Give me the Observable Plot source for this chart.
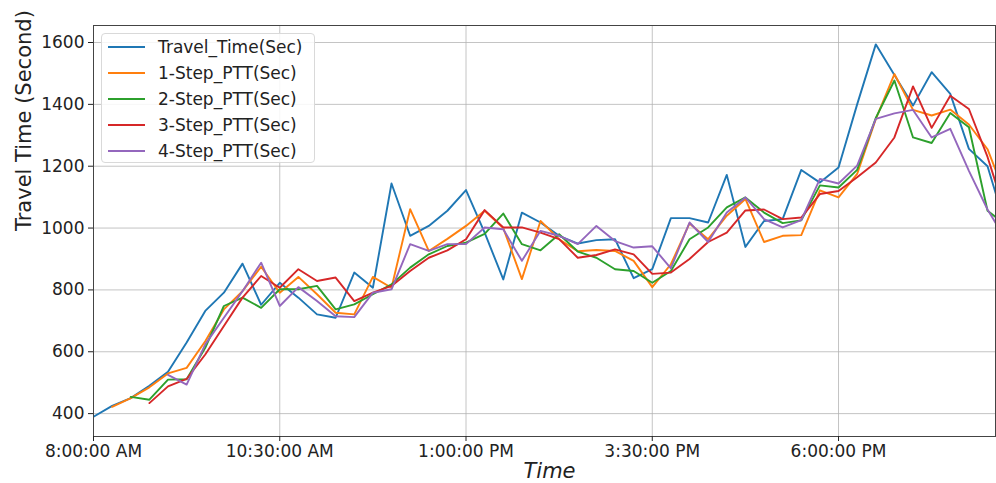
<!DOCTYPE html>
<html><head><meta charset="utf-8">
<script src="https://cdn.jsdelivr.net/npm/d3@7"></script>
<script src="https://cdn.jsdelivr.net/npm/@observablehq/plot@0.6"></script>
<style>
body{margin:0;background:#fff;}
#wrap{position:relative;width:996px;height:483px;font-family:"DejaVu Sans",sans-serif;}
#legend{position:absolute;left:101px;top:33px;width:214px;height:130px;border:1px solid #d9d9d9;border-radius:4px;background:rgba(255,255,255,0.85);box-sizing:border-box;padding-top:0px;}
.row{height:25.9px;display:flex;align-items:center;font-size:17px;color:#222;white-space:nowrap;}
.row svg{margin-left:6px;margin-right:13px;}
</style></head>
<body><div id="wrap"></div>
<script>
// ---- data ----
const seriesNames = ["Travel_Time(Sec)", "1-Step_PTT(Sec)", "2-Step_PTT(Sec)", "3-Step_PTT(Sec)", "4-Step_PTT(Sec)"];
const seriesColors = ["#1f77b4", "#ff7f0e", "#2ca02c", "#d62728", "#9467bd"];
const xTickLabels = ["8:00:00 AM", "10:30:00 AM", "1:00:00 PM", "3:30:00 PM", "6:00:00 PM"];
const yTicks = [400, 600, 800, 1000, 1200, 1400, 1600];
const stepMinutes = 15;

const travelTime = [390,425,450,490,535,630,732,791,885,752,823,775,721,710,856,807,1144,975,1007,1056,1123,985,834,1050,1018,975,950,961,964,838,867,1032,1032,1018,1172,939,1023,1029,1188,1147,1196,1400,1594,1495,1396,1504,1434,1256,1200,1000];
const step1 = [null,422,450,485,530,548,634,737,796,875,791,842,786,726,721,842,807,1061,926,965,1007,1056,1000,835,1023,964,925,929,926,894,809,883,1015,964,1040,1094,955,975,977,1122,1099,1175,1352,1498,1382,1364,1383,1335,1255,1100];
const step2 = [null,null,454,445,510,511,613,748,775,742,802,802,813,737,753,786,818,872,915,942,953,981,1047,948,928,980,924,904,867,861,823,861,964,1002,1067,1099,1050,1016,1025,1138,1131,1188,1356,1477,1293,1275,1372,1326,1056,1010];
const step3 = [null,null,null,434,488,512,591,683,775,845,807,867,829,840,764,791,813,861,904,928,964,1058,1002,1002,985,964,904,913,931,915,852,856,900,955,985,1057,1060,1029,1034,1110,1120,1164,1212,1293,1458,1324,1428,1385,1230,1040];
const step4 = [null,null,null,null,525,494,624,710,796,888,748,809,764,715,712,791,802,948,926,948,948,1002,996,894,991,975,948,1007,958,937,941,870,1018,955,1050,1099,1029,1002,1026,1159,1144,1202,1353,1371,1382,1293,1321,1185,1060,960];

// ---- build ----
const parseT = d3.timeParse("%I:%M:%S %p");
const xTicks = xTickLabels.map(parseT);
const start = xTicks[0];
const times = travelTime.map((_, i) => d3.timeMinute.offset(start, stepMinutes * i));
const xEnd = d3.timeSecond.offset(start, 12 * 3600 + 385);

const allSeries = [travelTime, step1, step2, step3, step4];
const table = [];
allSeries.forEach((vals, s) => vals.forEach((v, i) => {
  if (v != null) table.push({time: times[i], value: v, series: seriesNames[s]});
}));

const chart = Plot.plot({
  width: 996, height: 483,
  marginLeft: 93, marginRight: 1, marginTop: 25, marginBottom: 47,
  style: {fontFamily: "DejaVu Sans, sans-serif", fontSize: "17px", color: "#222", background: "#fff"},
  x: {type: "time", domain: [start, xEnd]},
  y: {domain: [326, 1655]},
  color: {domain: seriesNames, range: seriesColors},
  marks: [
    Plot.gridX(xTicks, {stroke: "#b0b0b0", strokeOpacity: 0.75, strokeWidth: 1}),
    Plot.gridY(yTicks, {stroke: "#b0b0b0", strokeOpacity: 0.75, strokeWidth: 1}),
    Plot.line(table, {x: "time", y: "value", z: "series", stroke: "series", strokeWidth: 1.9, clip: true}),
    Plot.frame({stroke: "#444", strokeWidth: 1}),
    Plot.axisX({ticks: xTicks, tickFormat: d3.timeFormat("%-I:%M:%S %p"), tickSize: 5, tickPadding: 3, label: null}),
    Plot.axisY({ticks: yTicks, tickFormat: d => String(d), tickSize: 5, tickPadding: 4, label: null}),
    Plot.text(["Travel Time (Second)"], {frameAnchor: "left", rotate: -90, dx: -69, fontSize: 21, fill: "#222"}),
    Plot.text(["Time"], {frameAnchor: "bottom", dy: 41, dx: 5, fontSize: 21, fontStyle: "italic", fill: "#222"})
  ]
});

const wrap = document.getElementById("wrap");
wrap.appendChild(chart);

const legend = document.createElement("div");
legend.id = "legend";
seriesNames.forEach((name, i) => {
  const row = document.createElement("div");
  row.className = "row";
  row.innerHTML = `<svg width="37" height="6"><line x1="0" x2="37" y1="3" y2="3" stroke="${seriesColors[i]}" stroke-width="2"/></svg><span>${name}</span>`;
  legend.appendChild(row);
});
wrap.appendChild(legend);
</script>
</body></html>
